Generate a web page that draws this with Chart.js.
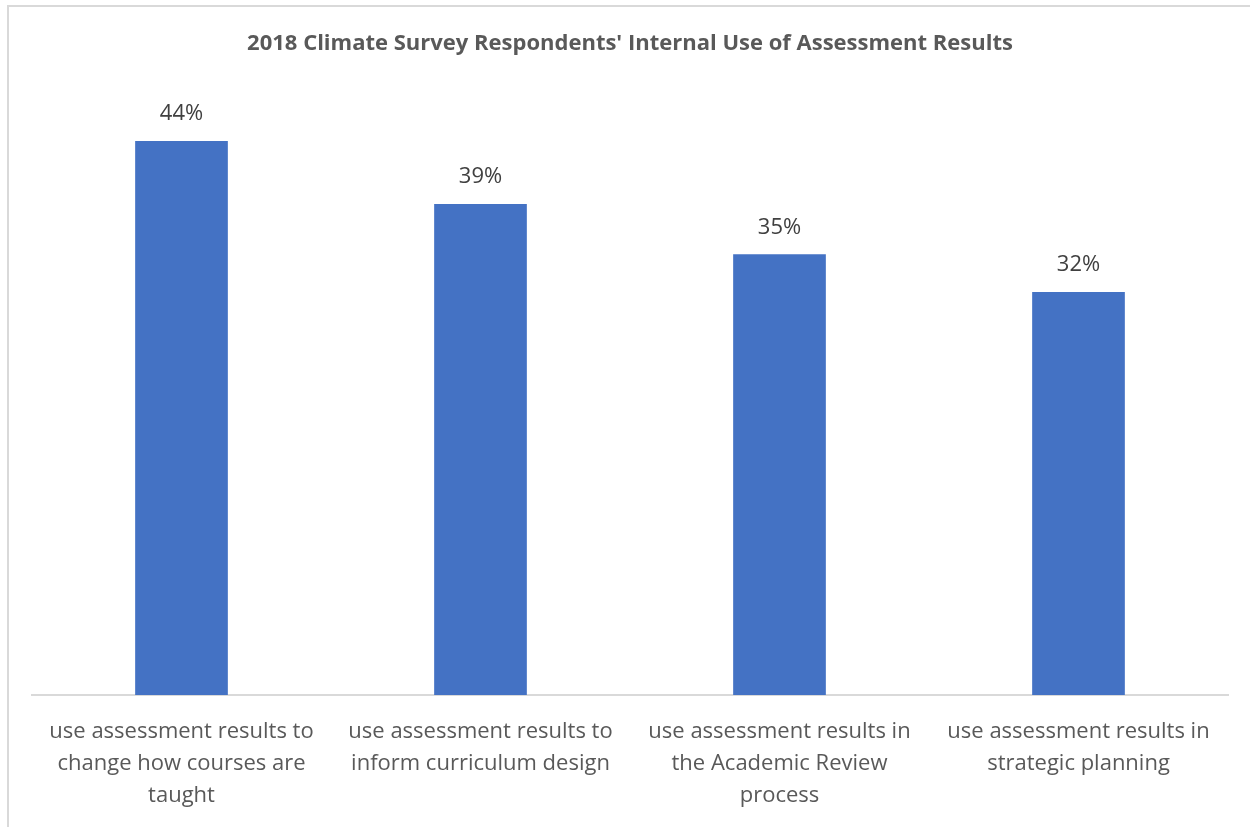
<!DOCTYPE html>
<html>
<head>
<meta charset="utf-8">
<script src="https://cdn.jsdelivr.net/npm/chart.js@4.4.0/dist/chart.umd.min.js"></script>
<style>
  html, body { margin: 0; padding: 0; background: #fff; overflow: hidden; }
  #frame { position: absolute; left: 7px; top: 5px; width: 1400px; height: 1000px; border: 2px solid #d9d9d9; }
  #wrap { position: absolute; left: 0; top: 0; width: 1250px; height: 827px; }
</style>
</head>
<body>
<div id="frame"></div>
<div id="wrap"><canvas id="chart"></canvas></div>
<script>
// Datos del gráfico
const categorias = [
    ['use assessment results to', 'change how courses are', 'taught'],
    ['use assessment results to', 'inform curriculum design'],
    ['use assessment results in', 'the Academic Review', 'process'],
    ['use assessment results in', 'strategic planning']
];
const valores = [44, 39, 35, 32];
const titulo = "2018 Climate Survey Respondents' Internal Use of Assessment Results";

// Etiquetas de porcentaje sobre las barras
const etiquetasPlugin = {
    id: 'etiquetas',
    afterDatasetsDraw(chart) {
        const ctx = chart.ctx;
        ctx.save();
        ctx.font = '22px "Open Sans"';
        ctx.fillStyle = '#404040';
        ctx.textAlign = 'center';
        ctx.textBaseline = 'middle';
        chart.getDatasetMeta(0).data.forEach((bar, i) => {
            ctx.fillText(valores[i] + '%', bar.x, bar.y - 27);
        });
        ctx.restore();
    }
};

const ctx = document.getElementById('chart').getContext('2d');
const chart = new Chart(ctx, {
    type: 'bar',
    data: {
        labels: categorias,
        datasets: [{
            data: valores,
            backgroundColor: '#4472C4',
            borderWidth: 0,
            categoryPercentage: 1,
            barPercentage: 0.31
        }]
    },
    options: {
        responsive: true,
        maintainAspectRatio: false,
        animation: false,
        layout: {
            padding: { left: 32, right: 22, top: 0, bottom: 0 }
        },
        plugins: {
            legend: { display: false },
            tooltip: { enabled: false },
            title: {
                display: true,
                text: titulo,
                color: '#595959',
                font: { family: 'Open Sans', size: 22, weight: 'bold' },
                padding: { top: 31, bottom: 8 }
            }
        },
        scales: {
            y: {
                display: false,
                min: 0,
                max: 50
            },
            x: {
                grid: { display: false, drawTicks: false },
                border: { display: true, color: '#d9d9d9', width: 2 },
                ticks: {
                    color: '#595959',
                    font: { family: 'Open Sans', size: 22, lineHeight: 1.45 },
                    padding: 21,
                    maxRotation: 0,
                    autoSkip: false
                },
                afterFit(scale) {
                    scale.height = 132;
                }
            }
        }
    },
    plugins: [etiquetasPlugin]
});
</script>
</body>
</html>
